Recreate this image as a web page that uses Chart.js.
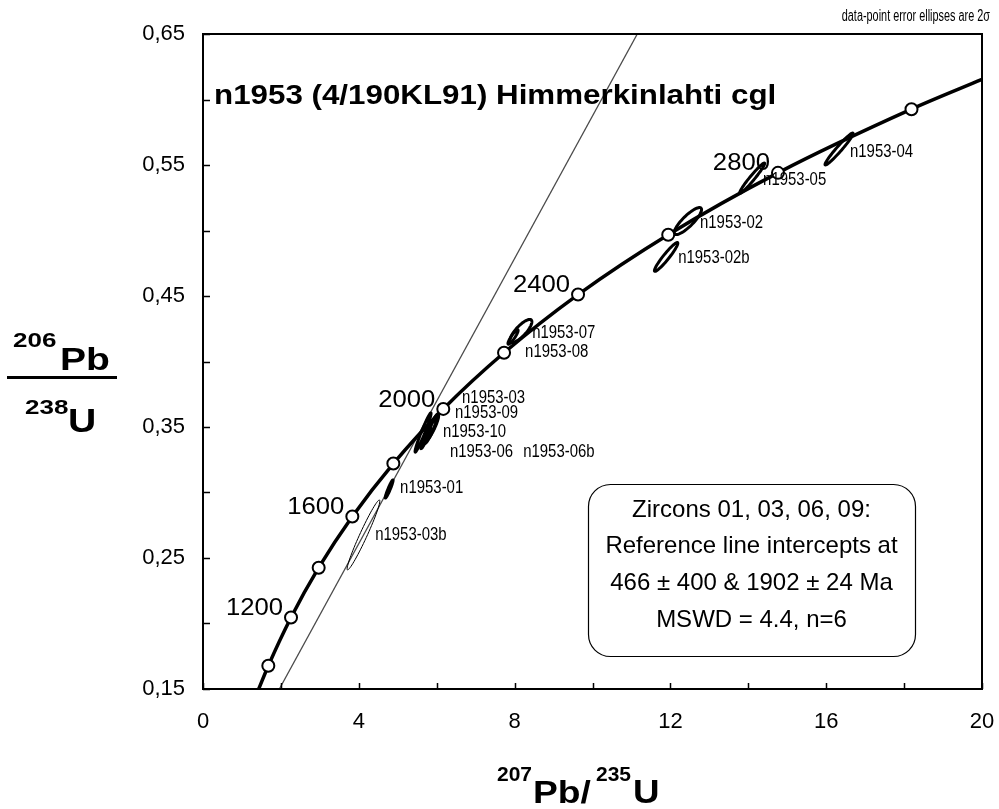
<!DOCTYPE html>
<html>
<head>
<meta charset="utf-8">
<script src="https://cdn.jsdelivr.net/npm/chart.js@4.4.1/dist/chart.umd.min.js"></script>
<style>
  html, body { margin: 0; padding: 0; background: #fff; }
  #wrap { width: 999px; height: 809px; }
</style>
</head>
<body>
<div id="wrap"><canvas id="concordia" width="999" height="809"></canvas></div>
<script>
// concordia curve (207Pb/235U , 206Pb/238U)
var concX = [1.43, 1.677, 2.26, 2.97, 3.834, 4.887, 6.169, 7.729, 9.629, 11.944, 14.762, 18.19, 20.0];
var concY = [0.150, 0.1678, 0.2046, 0.2426, 0.2817, 0.3221, 0.3638, 0.4067, 0.4511, 0.4968, 0.5440, 0.5926, 0.6153];

// age marks on the concordia (open circles), Ma
var ageNames = ['1000', '1200', '1400', '1600', '1800', '2000', '2200', '2400', '2600', '2800', '3000'];
var ageX = [1.677, 2.26, 2.97, 3.834, 4.887, 6.169, 7.729, 9.629, 11.944, 14.762, 18.19];
var ageY = [0.1678, 0.2046, 0.2426, 0.2817, 0.3221, 0.3638, 0.4067, 0.4511, 0.4968, 0.5440, 0.5926];
var ageShown = ['1200', '1600', '2000', '2400', '2800'];

// reference line (466 & 1902 Ma intercepts), ends at the frame
var refX = [1.96, 11.15];
var refY = [0.15, 0.65];

// zircon analyses: centre, 2s errors, error correlation
var spotNames = ['n1953-04', 'n1953-05', 'n1953-02', 'n1953-02b', 'n1953-07', 'n1953-08',
                 'n1953-03', 'n1953-09', 'n1953-10', 'n1953-06', 'n1953-06b', 'n1953-01', 'n1953-03b'];
var spotX   = [16.33, 14.10, 12.45, 11.89, 8.164, 7.96, 5.65, 5.88, 5.84, 5.72, 5.92, 4.78, 4.12];
var spotY   = [0.5622, 0.540, 0.5072, 0.4798, 0.4233, 0.4187, 0.3458, 0.3495, 0.3470, 0.3420, 0.3520, 0.3027, 0.2676];
var spotErrX = [0.36, 0.32, 0.35, 0.30, 0.28, 0.13, 0.205, 0.17, 0.15, 0.13, 0.12, 0.10, 0.42];
var spotErrY = [0.0122, 0.0115, 0.0103, 0.011, 0.0088, 0.0055, 0.0149, 0.0100, 0.0095, 0.0085, 0.0080, 0.0069, 0.0267];
var spotRho  = [0.97, 0.97, 0.85, 0.95, 0.80, 0.90, 0.97, 0.90, 0.92, 0.93, 0.90, 0.95, 0.97];

// axis ticks
var xTicks = [0, 4, 8, 12, 16, 20];
var yTicks = [0.15, 0.25, 0.35, 0.45, 0.55, 0.65];
var yTickText = ['0,15', '0,25', '0,35', '0,45', '0,55', '0,65'];
var xMarks = [0, 2, 4, 6, 8, 10, 12, 14, 16, 18, 20];
var yMarks = [0.15, 0.20, 0.25, 0.30, 0.35, 0.40, 0.45, 0.50, 0.55, 0.60, 0.65];

var boxLines = ['Zircons 01, 03, 06, 09:', 'Reference line intercepts at', '466 \u00b1 400 & 1902 \u00b1 24 Ma', 'MSWD = 4.4, n=6'];

// where the sample names sit (data units, left / middle of text)
var labelAt = {
  'n1953-04': [16.61, 0.5600], 'n1953-05': [14.38, 0.5385], 'n1953-02': [12.76, 0.5055],
  'n1953-02b': [12.20, 0.4790], 'n1953-07': [8.45, 0.4218], 'n1953-08': [8.27, 0.4073],
  'n1953-03': [6.65, 0.3721], 'n1953-09': [6.47, 0.3607], 'n1953-10': [6.16, 0.3462],
  'n1953-06': [6.34, 0.3309], 'n1953-06b': [8.22, 0.3309], 'n1953-01': [5.06, 0.3034],
  'n1953-03b': [4.42, 0.2676]
};

var FONT = "'Liberation Sans', Arial, Helvetica, sans-serif";

function txt(ctx, s, x, y, font, align, sx, base) {
  ctx.save();
  ctx.font = font;
  ctx.fillStyle = '#000';
  ctx.textAlign = align || 'left';
  ctx.textBaseline = base || 'alphabetic';
  ctx.translate(x, y);
  ctx.scale(sx || 1, 1);
  ctx.fillText(s, 0, 0);
  ctx.restore();
}

function pts(xs, ys) {
  return xs.map(function (v, i) { return { x: v, y: ys[i] }; });
}

// error ellipses, drawn between the curve and the age circles
var ellipsePlugin = {
  id: 'ellipses',
  afterDatasetDraw: function (chart, args) {
    if (args.index !== 1) return;
    var ctx = chart.ctx, xs = chart.scales.x, ys = chart.scales.y;
    ctx.save();
    ctx.strokeStyle = '#000';
    spotNames.forEach(function (name, i) {
      var r2 = Math.sqrt(1 - spotRho[i] * spotRho[i]);
      ctx.lineWidth = name === 'n1953-03b' ? 1 : 3;
      ctx.beginPath();
      for (var k = 0; k <= 72; k++) {
        var t = k / 72 * 2 * Math.PI;
        var px = xs.getPixelForValue(spotX[i] + spotErrX[i] * Math.cos(t));
        var py = ys.getPixelForValue(spotY[i] + spotErrY[i] * (spotRho[i] * Math.cos(t) + r2 * Math.sin(t)));
        if (k === 0) ctx.moveTo(px, py); else ctx.lineTo(px, py);
      }
      ctx.closePath();
      ctx.stroke();
    });
    ctx.restore();
  }
};

var decorPlugin = {
  id: 'decor',
  afterDraw: function (chart) {
    var ctx = chart.ctx, a = chart.chartArea, xs = chart.scales.x, ys = chart.scales.y;
    ctx.save();
    // frame
    ctx.strokeStyle = '#000';
    ctx.lineWidth = 2;
    ctx.strokeRect(a.left, a.top, a.right - a.left, a.bottom - a.top);
    // inward tick marks
    ctx.beginPath();
    yMarks.forEach(function (v) {
      var p = Math.round(ys.getPixelForValue(v)) + 0.5;
      ctx.moveTo(a.left, p); ctx.lineTo(a.left + 7, p);
    });
    xMarks.forEach(function (v) {
      var p = Math.round(xs.getPixelForValue(v)) + 0.5;
      ctx.moveTo(p, a.bottom); ctx.lineTo(p, a.bottom - 6);
    });
    ctx.lineWidth = 1.5;
    ctx.stroke();

    // age labels beside their circles
    ageShown.forEach(function (s) {
      var i = ageNames.indexOf(s);
      txt(ctx, s, xs.getPixelForValue(ageX[i]) - 8, ys.getPixelForValue(ageY[i]) - 9, '24px ' + FONT, 'right', 1.07, 'middle');
    });

    // sample names
    spotNames.forEach(function (name) {
      var p = labelAt[name];
      txt(ctx, name, xs.getPixelForValue(p[0]), ys.getPixelForValue(p[1]), '18px ' + FONT, 'left', 0.83, 'middle');
    });

    // title
    txt(ctx, 'n1953 (4/190KL91) Himmerkinlahti cgl', 214, 104, 'bold 27px ' + FONT, 'left', 1.16);

    // note top right
    txt(ctx, 'data-point error ellipses are 2\u03c3', 990, 21, '16px ' + FONT, 'right', 0.68);

    // result box
    ctx.beginPath();
    ctx.roundRect(588.5, 484.5, 327, 172, 22);
    ctx.lineWidth = 1.2;
    ctx.stroke();
    boxLines.forEach(function (s, i) {
      txt(ctx, s, 751.5, 510 + i * 36.7, '24px ' + FONT, 'center', 1, 'middle');
    });

    // y axis title as a fraction
    txt(ctx, '206', 13, 347, 'bold 20px ' + FONT, 'left', 1.3);
    txt(ctx, 'Pb', 60, 370, 'bold 31px ' + FONT, 'left', 1.26);
    ctx.fillRect(7, 376, 110, 3);
    txt(ctx, '238', 25, 414, 'bold 20px ' + FONT, 'left', 1.3);
    txt(ctx, 'U', 68, 432, 'bold 34px ' + FONT, 'left', 1.15);

    // x axis title
    txt(ctx, '207', 497, 781, 'bold 20px ' + FONT, 'left', 1.05);
    txt(ctx, 'Pb/', 533, 803, 'bold 31px ' + FONT, 'left', 1.2);
    txt(ctx, '235', 596, 781, 'bold 20px ' + FONT, 'left', 1.05);
    txt(ctx, 'U', 633, 803, 'bold 34px ' + FONT, 'left', 1.08);
    ctx.restore();
  }
};

var chart = new Chart(document.getElementById('concordia'), {
  type: 'scatter',
  data: {
    datasets: [
      {
        label: 'ages',
        data: pts(ageX, ageY),
        showLine: false,
        pointRadius: 6,
        pointBorderWidth: 2,
        pointBorderColor: '#000',
        pointBackgroundColor: '#fff'
      },
      {
        label: 'concordia',
        data: pts(concX, concY),
        showLine: true,
        borderColor: '#000',
        borderWidth: 3.5,
        pointRadius: 0,
        cubicInterpolationMode: 'monotone'
      },
      {
        label: 'reference line',
        data: pts(refX, refY),
        showLine: true,
        borderColor: '#4a4a4a',
        borderWidth: 1.3,
        pointRadius: 0
      }
    ]
  },
  options: {
    responsive: false,
    animation: false,
    devicePixelRatio: 1,
    layout: { autoPadding: false, padding: { top: 34, right: 17, left: 0, bottom: 0 } },
    plugins: { legend: { display: false }, tooltip: { enabled: false } },
    scales: {
      x: {
        type: 'linear',
        min: 0, max: 20,
        grid: { display: false, drawTicks: false },
        border: { display: false },
        afterBuildTicks: function (s) { s.ticks = xTicks.map(function (v) { return { value: v }; }); },
        afterFit: function (s) { s.height = 120; s.paddingLeft = 0; s.paddingRight = 0; },
        ticks: {
          padding: 20,
          color: '#000',
          font: { family: FONT, size: 22 },
          maxRotation: 0,
          callback: function (v) { return String(v); }
        }
      },
      y: {
        type: 'linear',
        min: 0.15, max: 0.65,
        grid: { display: false, drawTicks: false },
        border: { display: false },
        afterBuildTicks: function (s) { s.ticks = yTicks.map(function (v) { return { value: v }; }); },
        afterFit: function (s) { s.width = 203; s.paddingTop = 0; s.paddingBottom = 0; },
        ticks: {
          padding: 18,
          color: '#000',
          font: { family: FONT, size: 22 },
          callback: function (v) { var i = yTicks.indexOf(v); return i >= 0 ? yTickText[i] : ''; }
        }
      }
    }
  },
  plugins: [ellipsePlugin, decorPlugin]
});
</script>
</body>
</html>
